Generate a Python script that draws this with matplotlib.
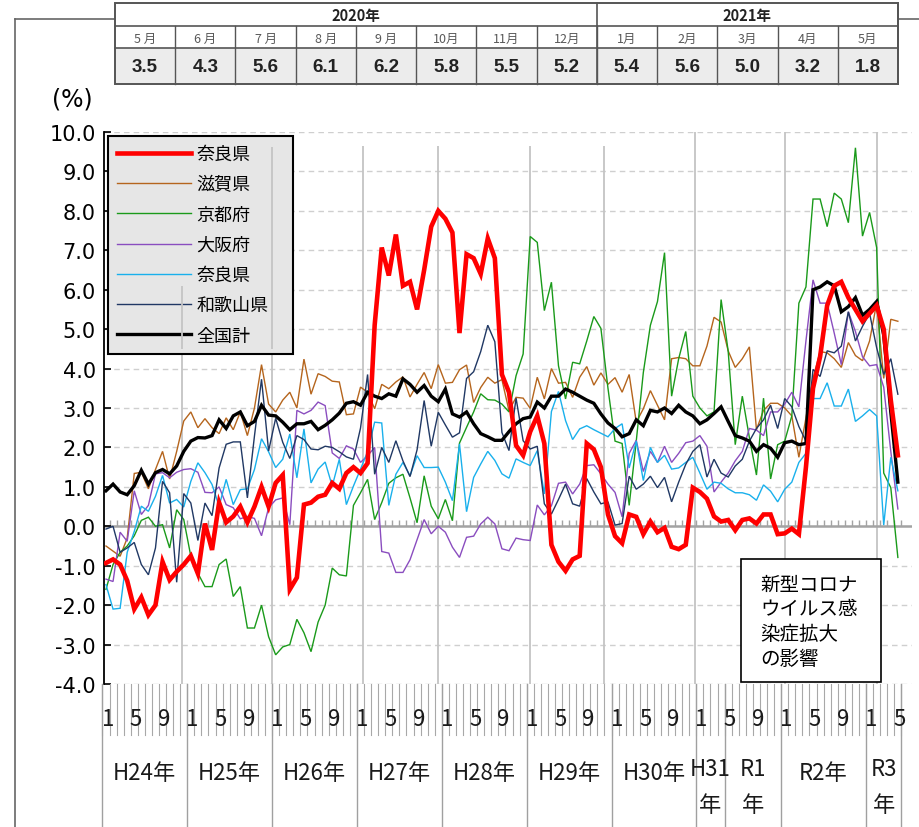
import numpy as np
import matplotlib
matplotlib.use("Agg")
import matplotlib.pyplot as plt
import matplotlib.transforms as mtransforms
from matplotlib.lines import Line2D
from matplotlib.patches import Rectangle
from matplotlib.legend_handler import HandlerLine2D

plt.rcParams['font.family'] = ['Noto Sans CJK JP', 'DejaVu Sans']

W, H = 920, 828

# ---------------- data (monthly, Jan H24 .. May R3) ----------------
series_names = ['奈良県', '滋賀県', '京都府', '大阪府', '奈良県', '和歌山県', '全国計']

nara_main = [-0.93, -0.84, -0.97, -1.38, -2.1, -1.8, -2.25, -2.0, -0.9, -1.36, -1.15, -0.97,
             -0.75, -1.2, 0.07, -0.6, 0.6, 0.1, 0.25, 0.5, 0.1, 0.5, 1.0, 0.5,
             1.1, 1.3, -1.6, -1.3, 0.55, 0.6, 0.75, 0.8, 1.1, 0.95, 1.35, 1.5,
             1.35, 1.6, 5.1, 7.07, 6.36, 7.4, 6.1, 6.2, 5.5, 6.5, 7.6, 8.0,
             7.8, 7.45, 4.9, 6.9, 6.8, 6.4, 7.3, 6.8, 3.85, 3.4, 2.05, 1.8,
             2.4, 2.8, 2.1, -0.47, -0.9, -1.13, -0.84, -0.75, 2.1, 1.95, 1.5, 0.3,
             -0.25, -0.43, 0.3, 0.24, -0.2, 0.12, -0.15, -0.04, -0.52, -0.58, -0.47, 0.98,
             0.87, 0.7, 0.25, 0.12, 0.16, -0.1, 0.16, 0.2, 0.07, 0.3, 0.3, -0.2,
             -0.18, -0.06, -0.2, 1.5, 3.5, 4.3, 5.6, 6.1, 6.2, 5.8, 5.5, 5.2,
             5.4, 5.6, 5.0, 3.2, 1.8]

shiga = [-0.5, -0.63, -0.76, -0.3, 1.34, 1.37, 0.95, 1.44, 1.9, 1.2, 1.9, 2.67,
         2.9, 2.5, 2.73, 2.5, 2.35, 2.75, 2.45, 2.9, 2.3, 3.0, 4.1, 3.1,
         2.9, 3.2, 3.4, 3.0, 4.24, 3.35, 3.87, 3.8, 3.68, 3.66, 2.83, 2.85,
         3.53, 3.4, 2.98, 3.6, 3.49, 3.66, 3.79, 3.28, 3.6, 3.9, 3.49, 4.1,
         3.63, 3.65, 3.97, 4.09, 3.14, 3.52, 3.78, 3.63, 3.72, 2.93, 3.27, 3.25,
         2.99, 3.78, 3.23, 4.0, 3.63, 3.65, 3.27, 3.78, 4.05, 3.58, 3.89, 3.6,
         3.77, 3.4, 3.85, 2.64, 2.98, 3.44, 3.07, 2.7, 4.25, 4.28, 4.25, 4.07,
         4.07, 4.57, 5.3, 5.18, 4.45, 4.03, 4.25, 4.55, 2.45, 2.94, 3.12, 3.12,
         3.0, 2.8, 1.75, 2.75, 3.75, 4.43, 4.4, 4.25, 4.03, 4.66, 4.33, 4.2,
         4.7, 5.66, 3.75, 5.25, 5.2]

kyoto = [-1.6, -0.97, -0.66, -0.5, -0.24, 0.15, 0.23, 0.0, 0.04, -0.55, 0.42, 0.17,
         -0.76, -1.19, -1.53, -1.53, -0.97, -0.83, -1.78, -1.53, -2.58, -2.58, -2.0, -2.8,
         -3.26, -3.06, -3.0, -2.36, -2.7, -3.18, -2.43, -2.0, -1.06, -1.23, -1.26, 0.53,
         0.85, 1.19, 0.17, 0.6, 1.09, 1.23, 1.32, 0.72, 0.09, 1.28, 0.51, 0.19,
         0.68, 0.14, 2.11, 2.51, 2.9, 3.36, 3.21, 3.2, 3.1, 2.9, 3.82, 4.37,
         7.35, 7.2, 5.47, 6.19, 4.07, 3.23, 4.16, 4.12, 4.7, 5.32, 5.02, 3.5,
         2.16, 2.1, 0.53, 2.16, 3.9, 5.1, 5.7, 6.94, 3.3, 4.25, 4.94, 3.3,
         3.0, 2.8, 2.9, 5.75, 4.44, 2.07, 3.3, 2.25, 1.3, 3.25, 1.2, 2.07,
         2.16, 2.8, 5.66, 6.07, 8.3, 8.3, 7.6, 8.45, 8.3, 7.7, 9.6, 7.36,
         7.96, 7.07, 1.35, 0.98, -0.79]

osaka = [-1.34, -1.4, -0.15, -0.38, 0.9, 0.3, 0.53, 1.33, 1.36, 1.23, 1.37, 1.44,
         1.46, 1.37, 0.86, 0.85, 1.0, 0.55, 0.47, 0.19, 0.25, 0.2, -0.24, 0.47,
         0.67, 0.72, 0.04, 2.94, 2.85, 2.94, 3.15, 3.06, 1.86, 1.72, 2.04, 1.96,
         1.62, 1.79, 2.0, -0.64, -0.68, -1.17, -1.17, -0.85, -0.34, 0.17, -0.19, 0.0,
         -0.15, -0.53, -0.79, -0.28, -0.25, 0.06, 0.23, 0.06, -0.57, -0.62, -0.3, -0.34,
         -0.36, 0.54, 0.29, 0.52, 1.09, 1.12, 0.82, 1.07, 1.54, 1.56, 1.33, 1.07,
         0.86, 0.24, 1.85, 2.18, 1.39, 1.9, 1.62, 2.03, 1.62, 1.85, 2.12, 2.16,
         2.3, 2.03, 0.87, 1.12, 1.35, 1.66, 1.9, 2.48, 2.44, 2.3, 2.9, 2.9,
         3.1, 3.4, 3.03, 4.7, 6.25, 5.66, 5.66, 4.9, 4.1, 5.44, 4.94, 4.3,
         4.07, 4.1, 3.53, 1.9, 0.44]

nara_sub = [-1.48, -2.1, -2.08, -0.66, -0.13, 0.51, 0.38, 0.76, 1.29, 0.59, 0.68, 0.49,
            1.14, 1.61, 1.36, 1.06, 0.51, 1.19, 0.55, 0.93, 0.95, 1.44, 2.22, 1.89,
            1.49, 1.7, 2.34, 1.23, 2.47, 1.1, 1.45, 1.63, 1.02, 1.7, 0.55, 1.02,
            1.45, 1.89, 2.64, 2.62, 0.53, 1.32, 1.62, 1.28, 1.79, 1.49, 1.49, 1.5,
            1.12, 0.65, 2.09, 0.37, 1.24, 1.58, 1.9, 1.67, 1.33, 1.22, 1.71, 1.62,
            1.54, 1.92, 0.82, 2.91, 3.42, 2.68, 2.2, 2.47, 2.55, 2.45, 2.36, 2.27,
            2.48, 2.6, 1.48, 2.16, 1.16, 2.0, 1.62, 1.8, 1.45, 1.48, 1.62, 1.75,
            1.35, 0.94, 1.12, 1.09, 0.95, 0.85, 0.85, 0.8, 0.66, 1.05, 0.89, 0.62,
            0.94, 1.12, 1.62, 1.85, 3.24, 3.24, 3.64, 3.05, 3.05, 3.48, 2.66, 2.8,
            2.96, 2.8, 0.03, 1.75, 0.9]

wakayama = [-0.07, 0.0, -0.66, -0.55, -0.41, -0.97, -1.23, -0.55, 1.14, 0.85, -1.42, 0.83,
            0.59, -0.36, 0.59, 0.27, 1.48, 2.08, 2.14, 2.14, 0.72, 2.29, 3.73, 1.91,
            2.74, 2.13, 1.72, 2.3, 2.2, 1.96, 1.94, 2.03, 2.0, 1.89, 1.76, 1.7,
            2.49, 3.85, 1.32, 2.0, 1.62, 2.17, 1.66, 1.26, 1.94, 3.19, 2.03, 2.89,
            2.57, 2.26, 2.37, 3.75, 3.92, 4.43, 5.1, 4.68, 2.38, 1.92, 3.25, 2.17,
            1.96, 2.03, 0.57, 0.31, 0.68, 1.07, 0.57, 0.51, 1.21, 0.87, 0.57, 0.62,
            0.03, 0.07, 1.27, 0.94, 1.07, 1.27, 0.98, 1.24, 0.62, 1.12, 1.57, 1.9,
            2.07, 1.25, 1.7, 1.35, 1.25, 1.53, 1.7, 2.16, 2.48, 2.7, 3.07, 2.48,
            3.24, 3.03, 2.53, 2.16, 3.98, 3.8, 4.45, 4.4, 4.57, 5.44, 4.7, 5.07,
            5.4, 4.53, 3.85, 4.25, 3.35]

national = [0.9, 1.07, 0.87, 0.8, 1.03, 1.42, 1.07, 1.36, 1.44, 1.33, 1.53, 1.9,
            2.16, 2.25, 2.24, 2.3, 2.7, 2.48, 2.8, 2.9, 2.55, 2.66, 3.07, 2.82,
            2.8, 2.64, 2.45, 2.6, 2.6, 2.66, 2.45, 2.56, 2.7, 2.87, 3.12, 3.16,
            3.07, 3.4, 3.3, 3.24, 3.36, 3.3, 3.74, 3.6, 3.4, 3.57, 3.3, 3.16,
            3.48, 2.85, 2.77, 2.9, 2.6, 2.35, 2.27, 2.18, 2.18, 2.4, 2.6, 2.73,
            2.77, 3.15, 3.0, 3.3, 3.3, 3.48, 3.4, 3.3, 3.2, 3.12, 2.85, 2.62,
            2.48, 2.27, 2.35, 2.7, 2.55, 2.94, 2.9, 3.0, 2.86, 3.07, 2.9, 2.8,
            2.6, 2.7, 2.86, 3.03, 2.66, 2.3, 2.24, 2.16, 1.9, 2.07, 1.98, 1.75,
            2.12, 2.16, 2.07, 2.1, 6.0, 6.07, 6.2, 6.1, 5.44, 5.57, 5.8, 5.35,
            5.5, 5.7, 4.85, 2.9, 1.12]

year_labels = ['H24年', 'H25年', 'H26年', 'H27年', 'H28年', 'H29年', 'H30年',
               'H31\n年', 'R1\n年', 'R2年', 'R3\n年']
year_starts = [0, 12, 24, 36, 48, 60, 72, 84, 88, 96, 108, 113]
month_label_values = [1, 5, 9]
y_ticks = list(range(-4, 11))

table_years = ['2020年', '2021年']
table_year_spans = [8, 5]
table_months = ['5 月', '6 月', '7 月', '8 月', '9 月', '10月', '11月', '12月',
                '1月', '2月', '3月', '4月', '5月']
table_vals = [3.5, 4.3, 5.6, 6.1, 6.2, 5.8, 5.5, 5.2, 5.4, 5.6, 5.0, 3.2, 1.8]

note_lines = ['新型コロナ', 'ウイルス感', '染症拡大', 'の影響']


def fx(px):
    return px / W


def fy(py):
    return 1 - py / H


fig = plt.figure(figsize=(W / 100, H / 100), dpi=100)
fig.patch.set_facecolor('white')

ax = fig.add_axes([fx(104), fy(685), (912 - 104) / W, (685 - 133) / H])
ax.set_facecolor('none')
x = np.arange(len(national))
n = len(national)
ax.set_xlim(-0.28, 114.0)
ax.set_ylim(-4, 10)

# horizontal grid
for v in y_ticks:
    if v == 0:
        ax.axhline(0, color='#a3a3a3', lw=1.8, zorder=1.5)
    else:
        ax.axhline(v, color='#cfcfcf', lw=1.0, ls=(0, (4, 3)), zorder=1)
ax.vlines(np.arange(-0.5, n), 0, 0.16, color='#a3a3a3', lw=1.0, zorder=1.5)

# vertical grid lines
vg_x = [10.75, 23.5, 36.35, 46.96, 59.97, 70.4, 83.3, 96.0, 109.05]
vg_top = [6.09, 9.62, 9.65, 9.65, 9.65, 9.65, 10.0, 10.0, 10.0]
for gx, gt in zip(vg_x, vg_top):
    ax.vlines(gx, -4, gt, color='#c4c4c4', lw=1.3, zorder=1)
ax.vlines(vg_x[0], 4.5, vg_top[0], color='#c4c4c4', lw=1.3, zorder=6)
ax.vlines(vg_x[1], 4.5, vg_top[1], color='#c4c4c4', lw=1.3, zorder=6)

# series
styles = [
    (nara_main, '#ff0000', 3.3, 10),
    (shiga, '#b5651d', 1.0, 3),
    (kyoto, '#1a9a1a', 1.0, 4),
    (osaka, '#8a4dbf', 1.0, 5),
    (nara_sub, '#19b0ec', 1.0, 6),
    (wakayama, '#203864', 1.0, 7),
    (national, '#000000', 2.4, 9),
]
handles = []
for (vals, col, lw, zo), name in zip(styles, series_names):
    ln, = ax.plot(x, vals, color=col, lw=lw, zorder=zo, solid_joinstyle='miter', label=name)
    handles.append(ln)

# axes decoration
for s in ['top', 'right', 'bottom']:
    ax.spines[s].set_visible(False)
ax.spines['left'].set_linewidth(1.3)
ax.spines['left'].set_color('black')
ax.set_xticks([])
ax.set_yticks(y_ticks)
ax.set_yticklabels([f'{v:.1f}' for v in y_ticks], fontfamily='DejaVu Sans')
ax.tick_params(axis='y', direction='in', length=5, width=1.2, labelsize=15, pad=6, colors='black')


class TrimHandler(HandlerLine2D):
    def create_artists(self, legend, orig_handle, xdescent, ydescent, width, height, fontsize, trans):
        arts = super().create_artists(legend, orig_handle, xdescent, ydescent, width, height, fontsize, trans)
        for a in arts:
            xd = a.get_xdata()
            if len(xd) == 2:
                a.set_xdata([xd[0] + 0.33 * (xd[1] - xd[0]), xd[1]])
        return arts


leg = ax.legend(handles=handles, labels=series_names, loc='upper left',
                bbox_to_anchor=(fx(108), fy(350), (293 - 108) / W, (350 - 137) / H),
                bbox_transform=fig.transFigure, mode='expand', borderaxespad=0,
                frameon=True, fancybox=False, facecolor='#e6e6e6', edgecolor='black',
                framealpha=1, fontsize=13, handlelength=4.1, handletextpad=0.3,
                labelspacing=0.68, borderpad=0.5,
                handler_map={Line2D: TrimHandler()})
leg.get_frame().set_linewidth(1.5)
leg.set_zorder(5)

# category label area below the plot
blend = mtransforms.blended_transform_factory(ax.transData, fig.transFigure)
for b in np.arange(-0.5, n):
    fig.add_artist(Line2D([b, b], [fy(685), fy(736)], transform=blend, color='#a8a8a8', lw=0.8))
for ys in year_starts:
    b = ys - 0.5
    fig.add_artist(Line2D([b, b], [fy(685), fy(828)], transform=blend, color='#a0a0a0', lw=1.0))
for m in range(n):
    mv = m % 12 + 1
    if mv in month_label_values:
        fig.text(m + 0.25, fy(720), str(mv), transform=blend, ha='center', va='center',
                 fontsize=16, color='#1a1a1a')
for i, lab in enumerate(year_labels):
    cx = (year_starts[i] + year_starts[i + 1] - 1) / 2
    if '\n' in lab:
        a, b2 = lab.split('\n')
        fig.text(cx, fy(770), a, transform=blend, ha='center', va='center', fontsize=16, color='#1a1a1a')
        fig.text(cx, fy(806), b2, transform=blend, ha='center', va='center', fontsize=16, color='#1a1a1a')
    else:
        fig.text(cx, fy(774), lab, transform=blend, ha='center', va='center', fontsize=16, color='#1a1a1a')

# frame lines
fig.add_artist(Line2D([fx(15), fx(15)], [fy(20), fy(828)], color='#666666', lw=1.2))
fig.add_artist(Line2D([fx(15), fx(920)], [fy(20), fy(20)], color='#666666', lw=1.2, zorder=0.5))

# (%) label
fig.text(fx(72), fy(100), '(%)', ha='center', va='center', fontsize=17, fontfamily='DejaVu Sans')

# note box
fig.add_artist(Rectangle((fx(741), fy(683)), (881 - 741) / W, (683 - 560) / H,
                         transform=fig.transFigure, facecolor='white', edgecolor='black', lw=1.2, zorder=2))
for i, t in enumerate(note_lines):
    fig.text(fx(760), fy(585 + 25 * i), t, ha='left', va='center', fontsize=14, zorder=3)

# top table
tx0, cw = 115, (898 - 115) / 13
r0, r1, r2, r3 = 4, 27, 49, 85
fig.add_artist(Rectangle((fx(tx0), fy(r3)), (898 - tx0) / W, (r3 - r0) / H, transform=fig.transFigure,
                         facecolor='white', edgecolor='none', zorder=1))
fig.add_artist(Rectangle((fx(tx0), fy(r3)), (898 - tx0) / W, (r3 - r2) / H, transform=fig.transFigure,
                         facecolor='#ececec', edgecolor='none', zorder=1))
col = 0
for yl, span in zip(table_years, table_year_spans):
    xa = tx0 + col * cw
    xb = tx0 + (col + span) * cw
    fig.text(fx((xa + xb) / 2), fy((r0 + r1) / 2 + 1), yl, ha='center', va='center',
             fontsize=10.5, fontweight='bold', color='#222222', zorder=3)
    fig.add_artist(Line2D([fx(xb), fx(xb)], [fy(r0), fy(r3)], color='#555555', lw=1.2, zorder=2))
    col += span
for i, (mn, val) in enumerate(zip(table_months, table_vals)):
    xc = tx0 + (i + 0.5) * cw
    fig.text(fx(xc), fy((r1 + r2) / 2 + 1), mn, ha='center', va='center', fontsize=9,
             color='#595959', zorder=3)
    fig.text(fx(xc), fy((r2 + r3) / 2 + 1), f'{val:.1f}', ha='center', va='center', fontsize=13.5,
             fontweight='bold', color='#222222', fontfamily=['Liberation Sans', 'DejaVu Sans'], zorder=3)
    if i > 0:
        fig.add_artist(Line2D([fx(tx0 + i * cw)] * 2, [fy(r1), fy(r3)], color='#555555', lw=1.0, zorder=2))
for yy in [r1, r2]:
    fig.add_artist(Line2D([fx(tx0), fx(898)], [fy(yy), fy(yy)], color='#555555', lw=1.2, zorder=2))
fig.add_artist(Rectangle((fx(tx0), fy(r3)), (898 - tx0) / W, (r3 - r0) / H, transform=fig.transFigure,
                         facecolor='none', edgecolor='#555555', lw=1.4, zorder=2))

fig.savefig('out.png', dpi=100)
